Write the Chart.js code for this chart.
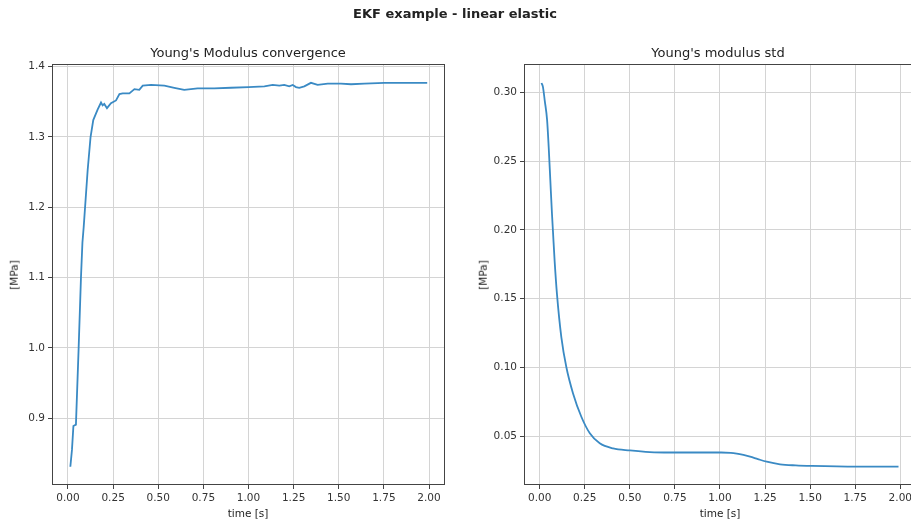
<!DOCTYPE html>
<html><head><meta charset="utf-8">
<script src="https://cdn.jsdelivr.net/npm/chart.js@4.4.0/dist/chart.umd.min.js"></script>
<style>
html,body{margin:0;padding:0;width:911px;height:520px;overflow:hidden;background:#fff;font-family:"DejaVu Sans",sans-serif;color:#222}
.t{position:absolute;white-space:nowrap;transform:translate(-50%,-50%);line-height:1}
.r{transform:translate(-50%,-50%) rotate(-90deg)}
canvas{position:absolute;top:0}
</style></head><body>
<canvas id="c1" width="455" height="520" style="left:0"></canvas>
<canvas id="c2" width="475" height="520" style="left:455px"></canvas>
<div class="t" style="left:455px;top:13px;font-weight:bold;font-size:13px">EKF example - linear elastic</div>
<div class="t" style="left:248px;top:52px;font-size:13px">Young's Modulus convergence</div>
<div class="t" style="left:718px;top:52px;font-size:13px">Young's modulus std</div>
<div class="t" style="left:248px;top:513px;font-size:10.5px">time [s]</div>
<div class="t" style="left:720px;top:513px;font-size:10.5px">time [s]</div>
<div class="t r" style="left:14px;top:275px;font-size:10.5px">[MPa]</div>
<div class="t r" style="left:483px;top:275px;font-size:10.5px">[MPa]</div>
<script>
// Left: Young's modulus estimate
const timeE = [0.013,0.022,0.03,0.044,0.059,0.072,0.080,0.087,0.109,0.125,0.14,0.164,0.183,0.192,0.201,0.216,0.238,0.266,0.285,0.303,0.34,0.368,0.395,0.414,0.46,0.534,0.589,0.644,0.718,0.81,0.903,1.0,1.088,1.134,1.171,1.198,1.226,1.245,1.263,1.281,1.309,1.346,1.383,1.439,1.512,1.568,1.642,1.752,1.99];
const valE  = [0.831,0.855,0.889,0.891,1.000,1.101,1.150,1.172,1.253,1.300,1.324,1.339,1.349,1.345,1.347,1.341,1.348,1.352,1.361,1.362,1.362,1.368,1.367,1.373,1.374,1.373,1.370,1.367,1.369,1.369,1.370,1.371,1.372,1.374,1.373,1.374,1.372,1.374,1.371,1.370,1.372,1.377,1.374,1.376,1.376,1.375,1.376,1.377,1.377];
// Right: Young's modulus std
const timeS = [0.01,0.018,0.028,0.041,0.05,0.059,0.068,0.074,0.083,0.096,0.12,0.148,0.185,0.231,0.278,0.333,0.407,0.5,0.611,0.722,0.85,1.006,1.06,1.093,1.13,1.167,1.21,1.259,1.333,1.42,1.509,1.759,1.99];
const valS  = [0.3068,0.304,0.294,0.280,0.260,0.236,0.212,0.198,0.177,0.153,0.122,0.100,0.081,0.064,0.052,0.0447,0.041,0.0395,0.0383,0.038,0.0380,0.0380,0.0378,0.0372,0.0362,0.035,0.0332,0.0313,0.0294,0.0286,0.0282,0.0277,0.0277];
const xTicks = [0,0.25,0.5,0.75,1.0,1.25,1.5,1.75,2.0];
const yTicksE = [0.9,1.0,1.1,1.2,1.3,1.4];
const yTicksS = [0.05,0.10,0.15,0.20,0.25,0.30];

const framePlugin = {id:'frame', afterDraw(chart){
  const {ctx, chartArea:a} = chart;
  ctx.save(); ctx.strokeStyle='#444'; ctx.lineWidth=1;
  ctx.strokeRect(Math.round(a.left)+0.5, Math.round(a.top)+0.5, Math.round(a.right-a.left)-1, Math.round(a.bottom-a.top)-1);
  ctx.restore();
}};

function make(id, xs, ys, o){
  const tickFont = {family:'DejaVu Sans', size:10.5};
  new Chart(document.getElementById(id), {
    type:'line',
    data:{datasets:[{data:xs.map((t,i)=>({x:t,y:ys[i]})), borderColor:'#3a8ac4', borderWidth:1.8, pointRadius:0, fill:false, tension:0, cubicInterpolationMode:o.cubic?'monotone':'default'}]},
    options:{
      responsive:false, animation:false, devicePixelRatio:1,
      layout:{padding:{top:64, right:o.padRight, left:0, bottom:0}},
      plugins:{legend:{display:false}, tooltip:{enabled:false}, title:{display:false}},
      scales:{
        x:{type:'linear', min:o.xmin, max:o.xmax,
          afterBuildTicks:s=>{s.ticks = xTicks.map(v=>({value:v}));},
          afterFit:s=>{s.height=35;},
          ticks:{callback:v=>Number(v).toFixed(2), font:tickFont, color:'#333', padding:3, maxRotation:0, autoSkip:false},
          grid:{color:'#d4d4d4', tickColor:'#444', tickLength:4, lineWidth:1},
          border:{display:false}},
        y:{type:'linear', min:o.ymin, max:o.ymax,
          afterBuildTicks:s=>{s.ticks = o.yTicks.map(v=>({value:v}));},
          afterFit:s=>{s.width=o.yWidth;},
          ticks:{callback:v=>Number(v).toFixed(o.dec), font:tickFont, color:'#333', padding:3, autoSkip:false},
          grid:{color:'#d4d4d4', tickColor:'#444', tickLength:4, lineWidth:1},
          border:{display:false}}
      }
    },
    plugins:[framePlugin]
  });
}
make('c1', timeE, valE, {xmin:-0.0886, xmax:2.0886, ymin:0.8051, ymax:1.4038, yTicks:yTicksE, dec:1, yWidth:52, padRight:10, cubic:false});
make('c2', timeS, valS, {xmin:-0.087, xmax:2.087, ymin:0.01436, ymax:0.3206, yTicks:yTicksS, dec:2, yWidth:69, padRight:14, cubic:true});
</script>
</body></html>
